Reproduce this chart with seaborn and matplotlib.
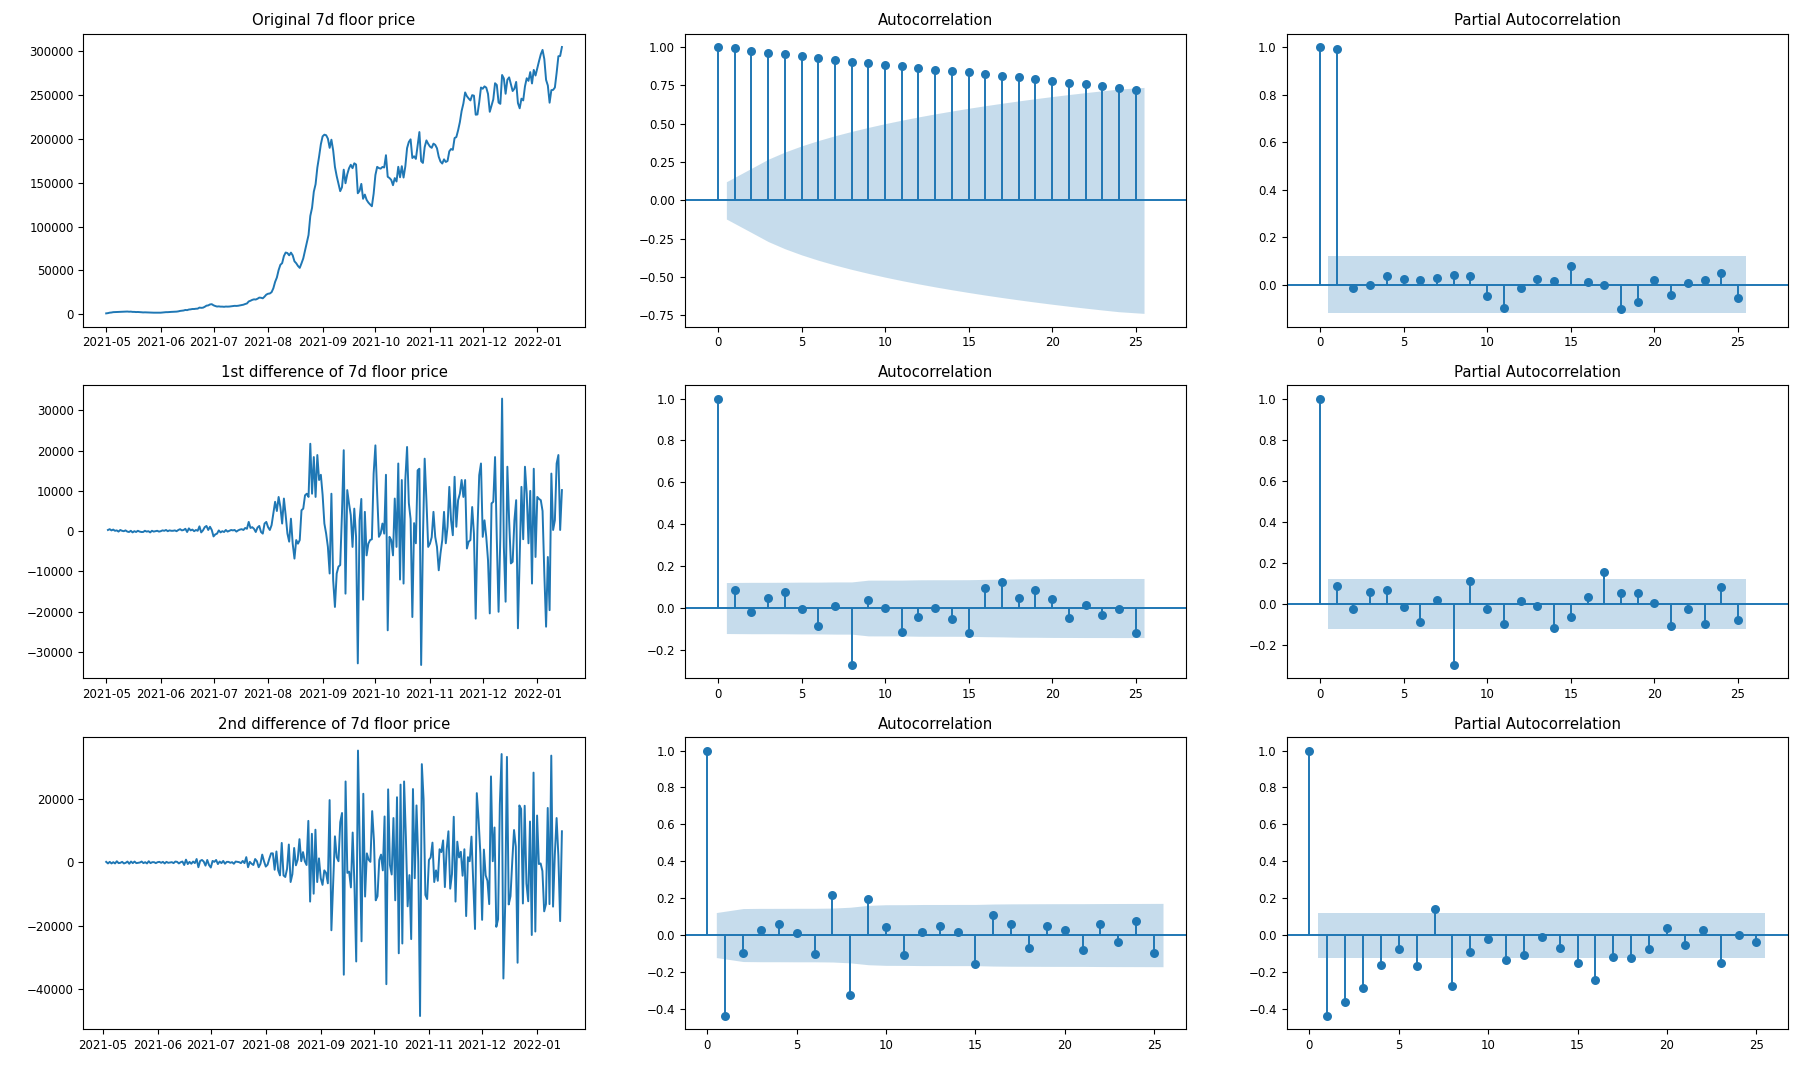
import numpy as np
import pandas as pd
import matplotlib
matplotlib.use("Agg")
import matplotlib.pyplot as plt
import matplotlib.dates as mdates
import seaborn as sns

# ---------------- data ----------------
start_date = "2021-05-01"
start_price = 1000

# daily change of the 7d floor price (first difference), 2021-05-02 .. 2022-01-15
daily_change = [
    300, 500, 200, 400, 100, 200, -100, 300, 100, 0,
    200, -100, -200, 100, -300, 0, -200, 100, -100, -200,
    -200, 100, -100, 0, -300, 100, -100, 0, 100, -100,
    0, 200, 100, 300, 0, 200, 100, 100, 200, 0,
    300, 500, 200, 300, 600, -200, 700, 200, 400, 0,
    300, 100, 1200, -300, 200, 1000, 1300, 300, 1100, 300,
    -1300, -800, -600, 200, -300, 0, -200, 300, -100, 100,
    300, 200, 300, -100, 200, 400, 500, 300, 800, 600,
    2300, 800, 1000, 600, -200, 900, 1300, -200, -600, 1900,
    2300, 1000, 300, 1500, 4400, 7300, 5000, 8500, 6000, 1900,
    8100, 4000, -600, -2600, 3100, -3100, -6800, -2200, -3100, -2200,
    5200, 5600, 8900, 9300, 8500, 21700, 9300, 18400, 8500, 18900,
    12700, 14000, 9000, 1900, -600, -3900, -10500, 9300, -12200, -18800,
    -10500, -8800, -8400, 4400, 20100, -15500, 10200, 6900, 4000, -3900,
    5600, -1400, -32800, 2700, 8000, -17000, 4800, -6000, -3100, -2200,
    -2000, 14300, 21300, 9300, -1400, -600, 1900, -600, 14000, -24600,
    -1400, -2200, -6000, 8100, -3900, 16800, -12000, 12700, -13000, 12700,
    20900, 7000, 3000, -21300, 2000, -3000, 15100, 15500, -33200, -2000,
    18000, 7700, -3900, -3100, -1500, 4800, -1400, -3900, -9700, -5500,
    -2200, 4800, -3000, 1100, 11000, 2700, -1000, 13500, 1100, 7700,
    9300, 12700, 8500, 12700, -4300, -2600, -2200, 6000, -600, -21700,
    300, 13900, 16800, -1400, 2700, -1400, -7200, -20400, 6900, 7300,
    18400, -2000, -20000, -1500, 32900, -3900, -17500, 16000, 2700, -8000,
    -7600, 2700, 7700, -24100, -6000, 11000, -2000, 16000, 9300, -3000,
    10000, -13000, 15500, -6400, 8500, 8000, 7700, 5000, -10500, -23700,
    -6400, -19600, 14300, 300, 2700, 16800, 18900, 300, 10200,
]

acf_price = [1.0, 0.991, 0.976, 0.963, 0.952, 0.939, 0.928, 0.915, 0.904, 0.898,
             0.885, 0.876, 0.863, 0.852, 0.843, 0.834, 0.824, 0.813, 0.804, 0.791,
             0.780, 0.767, 0.756, 0.743, 0.732, 0.723]
pacf_price = [1.0, 0.992, -0.014, -0.004, 0.035, 0.024, 0.017, 0.027, 0.042, 0.035,
              -0.049, -0.100, -0.013, 0.024, 0.014, 0.080, 0.011, -0.001, -0.103, -0.072,
              0.018, -0.044, 0.006, 0.021, 0.049, -0.056]
acf_diff1 = [1.0, 0.086, -0.018, 0.049, 0.075, -0.003, -0.088, 0.011, -0.272, 0.037,
             0.002, -0.116, -0.043, 0.0, -0.053, -0.119, 0.096, 0.123, 0.049, 0.086,
             0.043, -0.046, 0.014, -0.035, -0.006, -0.119]
pacf_diff1 = [1.0, 0.086, -0.028, 0.055, 0.067, -0.015, -0.089, 0.020, -0.299, 0.112,
              -0.028, -0.099, 0.013, -0.010, -0.117, -0.063, 0.033, 0.154, 0.050, 0.050,
              0.005, -0.109, -0.024, -0.099, 0.080, -0.081]
acf_diff2 = [1.0, -0.439, -0.099, 0.025, 0.061, 0.009, -0.103, 0.215, -0.325, 0.195,
             0.043, -0.108, 0.018, 0.051, 0.014, -0.159, 0.106, 0.060, -0.069, 0.047,
             0.027, -0.083, 0.060, -0.040, 0.076, -0.099]
pacf_diff2 = [1.0, -0.439, -0.365, -0.285, -0.162, -0.076, -0.170, 0.143, -0.274, -0.090,
              -0.023, -0.134, -0.106, -0.009, -0.072, -0.153, -0.245, -0.121, -0.125, -0.074,
              0.040, -0.054, 0.025, -0.150, 0.0, -0.038]

series_titles = ["Original 7d floor price",
                 "1st difference of 7d floor price",
                 "2nd difference of 7d floor price"]
acf_title = "Autocorrelation"
pacf_title = "Partial Autocorrelation"

# ---------------- derived series ----------------
floor_price = start_price + np.concatenate([[0], np.cumsum(daily_change)])
dates = pd.date_range(start_date, periods=len(floor_price), freq="D")
price = pd.Series(floor_price, index=dates, dtype=float)
diff1 = price.diff().dropna()
diff2 = price.diff().diff().dropna()

# ---------------- styling ----------------
BLUE = "#1f77b4"
LW = 1.4
TICK_FS = 8.5
TITLE_FS = 10.7

fig = plt.figure(figsize=(18.16, 10.8), dpi=100)
W, H = 1816.0, 1080.0
col_px = [(83.4, 501.3), (684.6, 501.2), (1286.5, 501.7)]
row_px = [(33.7, 293.0), (385.3, 293.0), (737.3, 292.0)]


def make_ax(r, c):
    x0, w = col_px[c]
    y0, h = row_px[r]
    return fig.add_axes([x0 / W, 1 - (y0 + h) / H, w / W, h / H])


def ts_panel(ax, s, title):
    sns.lineplot(x=s.index, y=s.values, ax=ax, color=BLUE, linewidth=LW)
    ax.set_title(title, fontsize=TITLE_FS)
    ax.set_xlabel("")
    ax.set_ylabel("")
    ax.xaxis.set_major_locator(mdates.MonthLocator())
    ax.xaxis.set_major_formatter(mdates.DateFormatter("%Y-%m"))
    ax.tick_params(labelsize=TICK_FS)


def corr_panel(ax, values, nobs, title, partial, xlim=None):
    vals = np.asarray(values, dtype=float)
    lags = np.arange(len(vals))
    ax.vlines(lags, 0, vals, color=BLUE, linewidth=LW)
    ax.axhline(0, color=BLUE, linewidth=LW)
    sns.scatterplot(x=lags, y=vals, ax=ax, color=BLUE, s=42,
                    edgecolor=BLUE, linewidth=0, zorder=3)
    if partial:
        half = np.full(len(vals), 1.96 / np.sqrt(nobs))
    else:
        var = np.ones(len(vals)) / nobs
        var[2:] *= 1 + 2 * np.cumsum(vals[1:-1] ** 2)
        half = 1.96 * np.sqrt(var)
    band_x = lags[1:].astype(float)
    band_x[0] -= 0.5
    band_x[-1] += 0.5
    ax.fill_between(band_x, -half[1:], half[1:], color=BLUE, alpha=0.25,
                    linewidth=0)
    ax.set_title(title, fontsize=TITLE_FS)
    ax.set_xlabel("")
    ax.set_ylabel("")
    if xlim is not None:
        ax.set_xlim(*xlim)
    ax.tick_params(labelsize=TICK_FS)


# row 1
ax = make_ax(0, 0)
ts_panel(ax, price, series_titles[0])
xlim_top = ax.get_xlim()
corr_panel(make_ax(0, 1), acf_price, len(price), acf_title, False, (-2, 28))
corr_panel(make_ax(0, 2), pacf_price, len(price), pacf_title, True, (-2, 28))

# row 2
ax = make_ax(1, 0)
ts_panel(ax, diff1, series_titles[1])
ax.set_xlim(xlim_top)
corr_panel(make_ax(1, 1), acf_diff1, len(diff1), acf_title, False, (-2, 28))
corr_panel(make_ax(1, 2), pacf_diff1, len(diff1), pacf_title, True, (-2, 28))

# row 3
ax = make_ax(2, 0)
ts_panel(ax, diff2, series_titles[2])
corr_panel(make_ax(2, 1), acf_diff2, len(diff2), acf_title, False)
corr_panel(make_ax(2, 2), pacf_diff2, len(diff2), pacf_title, True)

fig.savefig("out.png", dpi=100)
